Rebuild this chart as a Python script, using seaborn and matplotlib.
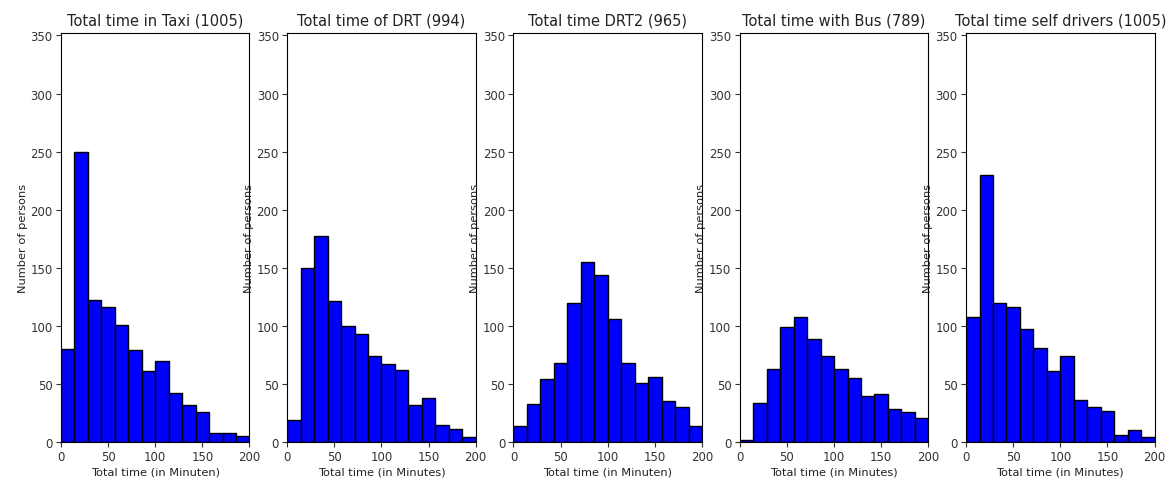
import numpy as np
import pandas as pd
import matplotlib
matplotlib.use("Agg")
import matplotlib.pyplot as plt
import seaborn as sns

# Data (counts per 14 equal bins between 0 and 200 minutes)
titles = [
    "Total time in Taxi (1005)",
    "Total time of DRT (994)",
    "Total time DRT2 (965)",
    "Total time with Bus (789)",
    "Total time self drivers (1005)",
]
xlabels = [
    "Total time (in Minuten)",
    "Total time (in Minutes)",
    "Total time (in Minuten)",
    "Total time (in Minutes)",
    "Total time (in Minutes)",
]
taxi = [80, 250, 122, 116, 101, 79, 61, 70, 42, 32, 26, 8, 8, 5]
drt = [19, 150, 177, 121, 100, 93, 74, 67, 62, 32, 38, 15, 11, 4]
drt2 = [14, 33, 54, 68, 120, 155, 144, 106, 68, 51, 56, 35, 30, 14]
bus = [2, 34, 63, 99, 108, 89, 74, 63, 55, 40, 41, 28, 26, 21]
self_drivers = [108, 230, 120, 116, 97, 81, 61, 74, 36, 30, 27, 6, 10, 4]
series = [taxi, drt, drt2, bus, self_drivers]

x_min, x_max, n_bins = 0, 200, 14
edges = np.linspace(x_min, x_max, n_bins + 1)
centers = (edges[:-1] + edges[1:]) / 2

fig, axes = plt.subplots(1, 5, figsize=(11.71, 4.81), dpi=100)
fig.subplots_adjust(left=0.052, right=0.986, top=0.929, bottom=0.079, wspace=0.2)

for ax, title, xlabel, counts in zip(axes, titles, xlabels, series):
    df = pd.DataFrame({"time": centers, "count": np.asarray(counts, dtype=float)})
    sns.histplot(data=df, x="time", weights="count", bins=n_bins,
                 binrange=(x_min, x_max), ax=ax,
                 color="#0000ff", edgecolor="black", linewidth=1.0, alpha=1.0)
    ax.set_xlim(0, 200)
    ax.set_ylim(0, 352)
    ax.set_xticks([0, 50, 100, 150, 200])
    ax.set_yticks([0, 50, 100, 150, 200, 250, 300, 350])
    ax.set_title(title, fontsize=10.5, color="#222222")
    ax.set_xlabel(xlabel, fontsize=8.2, color="#222222")
    ax.set_ylabel("Number of persons", fontsize=8.2, color="#222222")
    ax.tick_params(labelsize=8.5, colors="#333333", length=3.5, pad=2.5)
    ax.yaxis.labelpad = 2
    ax.xaxis.labelpad = 2

fig.savefig("out.png", dpi=100)
